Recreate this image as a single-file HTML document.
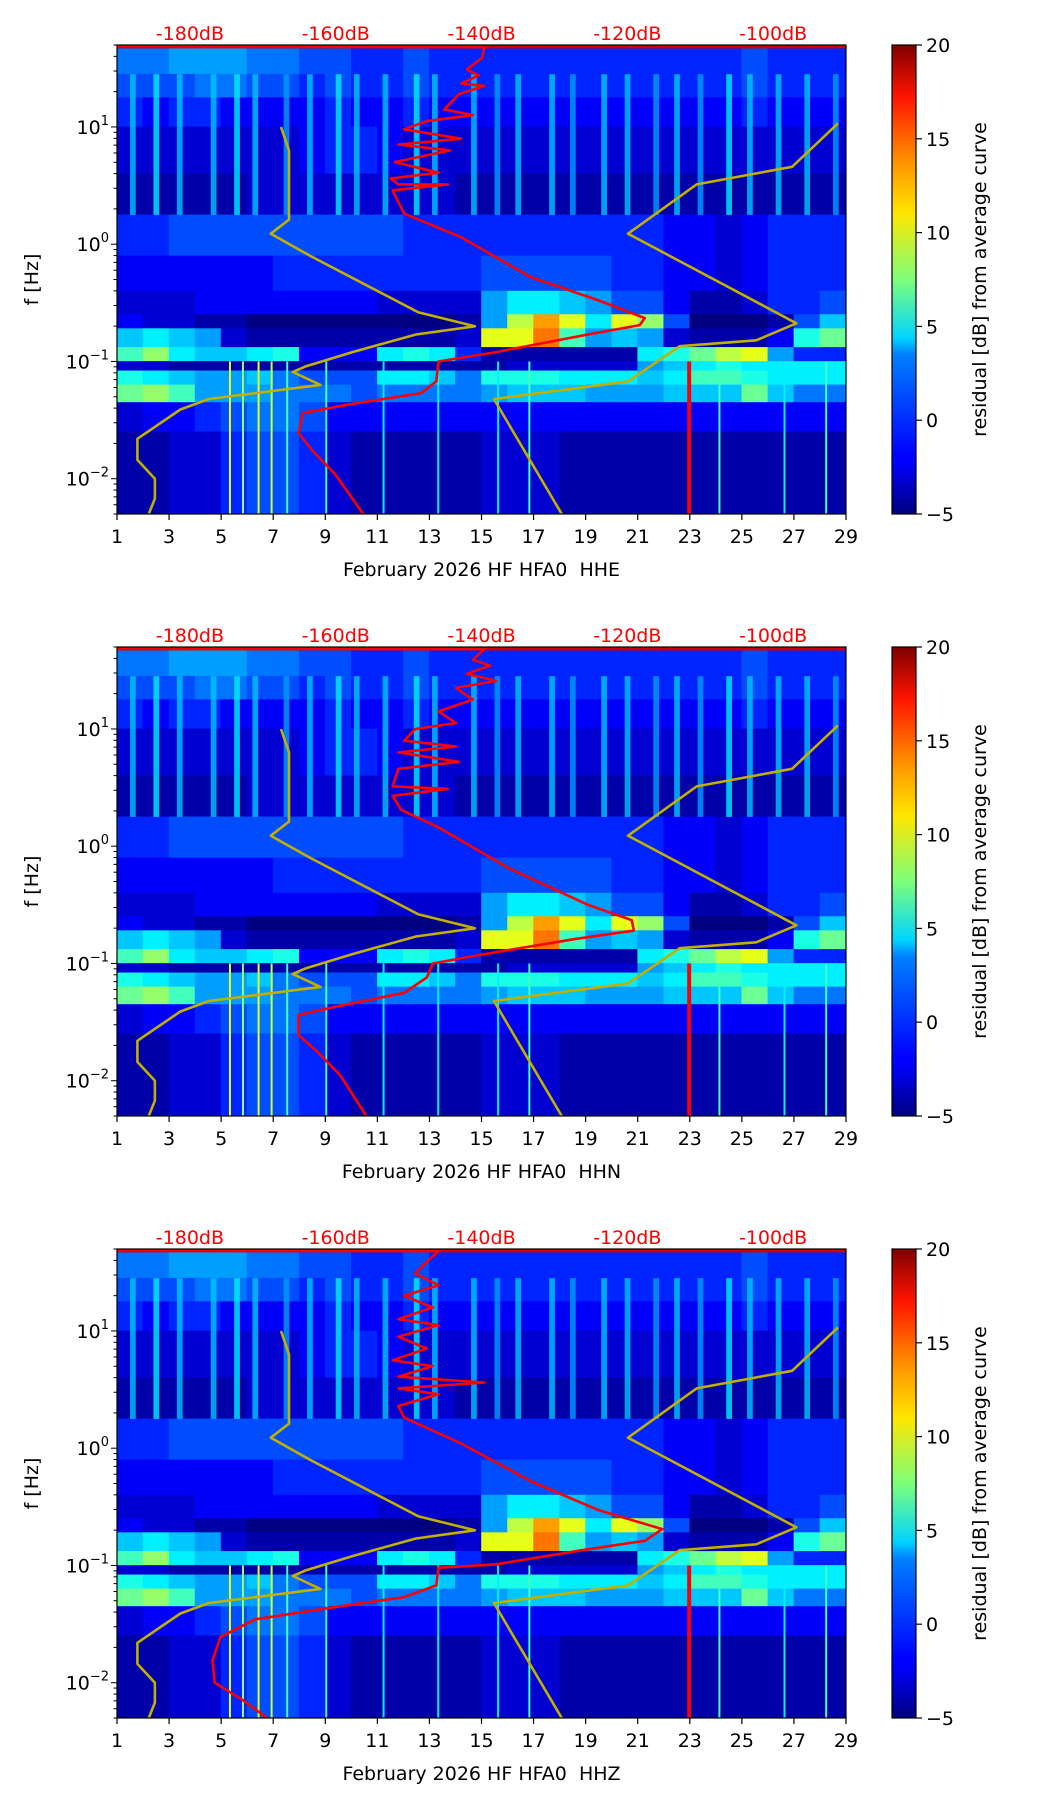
<!DOCTYPE html>
<html><head><meta charset="utf-8"><style>
html,body{margin:0;padding:0;background:#fff;}
svg{display:block;font-family:"DejaVu Sans","Liberation Sans",sans-serif;}
</style></head><body>
<svg id="fig" width="1052" height="1806" viewBox="0 0 1052 1806" xmlns="http://www.w3.org/2000/svg">
<defs>
<linearGradient id="jetg" x1="0" y1="1" x2="0" y2="0">
<stop offset="0" stop-color="#00007f"/><stop offset="0.11" stop-color="#0000ff"/><stop offset="0.125" stop-color="#0000ff"/>
<stop offset="0.34" stop-color="#0080ff"/><stop offset="0.375" stop-color="#00d4ff"/><stop offset="0.5" stop-color="#7dff7a"/>
<stop offset="0.64" stop-color="#ffe600"/><stop offset="0.75" stop-color="#ff9400"/><stop offset="0.89" stop-color="#ff1300"/><stop offset="1" stop-color="#7f0000"/>
</linearGradient>
</defs>
</svg>
<script>
// ---- data ----
const channels = ["HHE","HHN","HHZ"];
const dayTicks = [1,3,5,7,9,11,13,15,17,19,21,23,25,27,29];
const dbTicks = [-180,-160,-140,-120,-100];
const cbTicks = [20,15,10,5,0,-5];
const rowEdges = [1.70,1.45,1.25,1.0,0.6,0.25,-0.1,-0.4,-0.6,-0.72,-0.88,-1.0,-1.08,-1.2,-1.35,-1.6,-2.31];
const r0=[1,1,2,2,2,1,1,0,0,-1,-1,0,-1,-1,-1,-1,-1,-1,-1,-1,-1,-1,-1,-1,0,-1,-1,-1];
const r1=[0,0,0,1,1,0,0,-1,0,-1,-1,0,-1,-1,-1,-1,-1,-1,-1,-1,-1,-1,-1,-1,0,-1,-1,-1];
const r2=[-1,-2,-1,-1,-2,-2,-2,-2,-1,-2,-2,-1,-2,-2,-2,-2,-2,-2,-2,-2,-2,-2,-2,-2,-1,-2,-2,-2];
const r3=[-3,-3,-3,-3,-3,-3,-3,-2,-1,-1,-2,-3,-3,-3,-3,-3,-3,-3,-3,-3,-3,-3,-3,-3,-3,-3,-3,-3];
const r4=[-4,-4,-4,-4,-4,-3,-3,-3,-3,-3,-3,-3,-3,-4,-4,-4,-4,-4,-4,-4,-4,-4,-4,-4,-4,-4,-4,-4];
const r5=[-1,-1,0,0,0,0,0,0,0,0,0,-1,-1,-1,-1,-1,-1,-1,-1,-1,-1,-2,-2,-3,-2,-1,-1,-1];
const r6=[-2,-2,-2,-2,-2,-2,-1,-1,-1,-1,-1,-1,-1,-1,0,0,0,0,0,-1,-1,-2,-2,-3,-2,-1,-1,-1];
const r7=[-3,-3,-3,-2,-2,-2,-2,-2,-2,-2,-3,-3,-3,-3,2,4,4,3,2,0,0,-2,-4,-4,-3,-1,-1,0];
const r8=[-2,-3,-3,-4,-4,-5,-5,-5,-5,-5,-5,-5,-5,-4,2,9,13,10,4,10,8,0,-5,-5,-5,-4,0,3];
const r9=[3,4,3,2,-3,-4,-4,-4,-4,-4,-4,-4,-4,-3,10,10,14,6,2,3,2,-3,-4,-4,-4,-2,5,7];
const r10=[6,8,4,3,3,4,5,-2,-2,-2,4,5,4,-1,-4,-4,-4,-4,-4,-4,4,5,7,9,10,2,-1,-1];
const r11=[-3,-3,-4,-4,-4,-4,-4,-4,-4,-4,-4,-4,-4,-4,-4,-3,-3,-3,-3,-3,2,3,4,5,4,4,4,4];
const r12=[5,4,3,2,2,3,1,0,0,0,4,4,3,1,5,5,5,4,4,4,3,4,6,6,5,4,4,4];
const r13=[7,8,6,2,2,2,1,1,1,0,1,1,1,1,2,3,3,3,2,2,2,3,3,3,7,3,1,1];
const r14=[-3,-2,-2,-1,0,1,1,0,-2,-2,-2,-2,-2,-2,-2,-2,-2,-2,-2,-2,-2,-2,-2,-2,-2,-2,-2,-2];
const r15=[-4,-4,-3,-3,-1,0,0,-1,-3,-4,-4,-4,-4,-4,-3,-3,-3,-4,-4,-4,-4,-4,-4,-4,-4,-4,-4,-4];
const gridRows=[r0,r1,r2,r3,r4,r5,r6,r7,r8,r9,r10,r11,r12,r13,r14,r15];
const hiStripeDays=[1.5,2.4,3.3,4.6,5.5,6.2,7.4,8.3,9.4,10.1,11.2,12.4,13.1,14.6,15.5,16.3,17.6,18.4,19.6,20.5,21.6,22.4,23.3,24.4,25.2,26.3,27.4,28.5];
const hiStripeVals=[3,4,3,3,4,3,2,3,4,3,3,4,3,3,2,3,3,2,3,3,2,3,2,4,3,3,3,2];
const loStripeDays=[5.3,5.8,6.4,6.9,7.5,9.0,11.2,13.3,15.6,16.8,22.9,24.1,26.6,28.2];
const loStripeVals=[10,8,10,9,6,6,4,4,4,6,17,6,4,6];
// noise models (dB, log10 f)
const nlnmDb=[-167.5,-166.4,-166.4,-168.9,-163.5,-148.7,-140.9,-149,-157.7,-164,-165.9,-162.1,-177.4,-181.3,-187.2,-187.2,-184.8,-184.8,-185.7];
const nlnmLogF=[1.0,0.80,0.21,0.09,-0.10,-0.58,-0.70,-0.77,-0.92,-1.04,-1.09,-1.20,-1.32,-1.41,-1.66,-1.84,-2.0,-2.17,-2.31];
const nhnmDb=[-91.1,-97.4,-110.5,-119.9,-96.8,-102.3,-112.8,-119.9,-138.3,-128.9];
const nhnmLogF=[1.03,0.66,0.51,0.09,-0.675,-0.82,-0.87,-1.17,-1.32,-2.31];
// station average curves
const hheDb=[-190,-139.6,-139.9,-142.0,-140.4,-142.8,-139.6,-143.1,-145.1,-141.2,-147.5,-150.6,-142.8,-151.4,-144.3,-151.9,-145.9,-152.5,-151.4,-144.6,-152.2,-151.4,-150.6,-142.8,-133.3,-123.9,-117.6,-118.3,-125.4,-138.0,-145.9,-146.2,-148.3,-158.5,-164.5,-165.1,-163.2,-160.1,-156.1];
const hheLogF=[1.69,1.68,1.59,1.49,1.44,1.37,1.35,1.28,1.15,1.10,1.05,0.98,0.90,0.85,0.80,0.70,0.61,0.56,0.51,0.51,0.46,0.36,0.26,0.06,-0.28,-0.48,-0.63,-0.69,-0.77,-0.92,-1.00,-1.17,-1.27,-1.37,-1.44,-1.61,-1.76,-1.96,-2.31];
const hhnDb=[-190,-139.6,-141.2,-138.8,-142.0,-138.0,-143.5,-141.2,-145.9,-143.5,-149.1,-150.6,-143.5,-151.4,-143.1,-151.4,-152.2,-144.6,-152.2,-151.0,-145.9,-136.5,-125.4,-119.4,-119.1,-127.0,-139.6,-146.7,-147.5,-150.6,-160.1,-165.1,-165.1,-162.4,-159.3,-155.7];
const hhnLogF=[1.69,1.68,1.59,1.54,1.47,1.41,1.35,1.25,1.15,1.05,1.0,0.90,0.85,0.80,0.72,0.66,0.51,0.49,0.43,0.31,0.16,-0.18,-0.50,-0.63,-0.72,-0.79,-0.92,-1.0,-1.12,-1.25,-1.37,-1.44,-1.61,-1.76,-1.96,-2.31];
const hhzDb=[-190,-145.9,-147.5,-149.1,-145.9,-150.6,-146.7,-151.4,-145.9,-151.4,-147.5,-152.2,-146.7,-151.4,-139.6,-151.4,-145.9,-151.4,-150.6,-142.8,-133.3,-123.9,-115.2,-117.6,-126.2,-138.0,-145.9,-146.2,-150.6,-161.7,-171.1,-175.8,-176.9,-176.6,-172.7,-169.2];
const hhzLogF=[1.69,1.68,1.59,1.49,1.39,1.30,1.20,1.10,1.05,0.95,0.85,0.75,0.70,0.61,0.56,0.51,0.46,0.36,0.26,0.04,-0.28,-0.53,-0.69,-0.79,-0.87,-0.99,-1.02,-1.17,-1.27,-1.37,-1.46,-1.61,-1.81,-2.0,-2.15,-2.31];
const curveDb=[hheDb,hhnDb,hhzDb];
const curveLogF=[hheLogF,hhnLogF,hhzLogF];

// ---- layout ----
const NS="http://www.w3.org/2000/svg";
const svg=document.getElementById('fig');
const L=117,R=846,H=469,PW=R-L;
const tops=[45,647,1249];
const CBL=892,CBW=24;
const LFMAX=Math.log10(50),LFMIN=Math.log10(0.005);
function mk(tag,attrs,parent){const e=document.createElementNS(NS,tag);for(const k in attrs)e.setAttribute(k,attrs[k]);(parent||svg).appendChild(e);return e;}
function jet(v){let t=(v+5)/25;t=Math.max(0,Math.min(1,t));
 const f=(x)=>Math.max(0,Math.min(1,1.5-Math.abs(4*t-x)));
 const r=f(3),g=f(2),b=f(1);return `rgb(${Math.round(r*255)},${Math.round(g*255)},${Math.round(b*255)})`;}

channels.forEach((ch,pi)=>{
 const top=tops[pi];
 const xS=d=>L+(d-1)/28*PW;
 const yS=lf=>top+(LFMAX-lf)/(LFMAX-LFMIN)*H;
 const dbS=db=>L+(db+190)/100*PW;
 const g=mk('g',{});
 
 
 const clipId='clip'+pi;
 const cp=mk('clipPath',{id:clipId},g);mk('rect',{x:L,y:top,width:PW,height:H},cp);
 const hm=mk('g',{'clip-path':`url(#${clipId})`},g);
 
 
 gridRows.forEach((row,ri)=>{
  const y1=yS(rowEdges[ri]),y2=yS(rowEdges[ri+1]);
  row.forEach((v,di)=>{
   const c=mk('rect',{x:xS(di+1)-0.3,y:y1-0.3,width:PW/28+0.6,height:y2-y1+0.6,fill:jet(v)},hm);
   
   
  });
 });
 hiStripeDays.forEach((d,i)=>{
  const s=mk('rect',{x:xS(d),y:yS(1.45),width:PW/28*0.22,height:yS(0.25)-yS(1.45),fill:jet(hiStripeVals[i]),opacity:0.8},hm);
  
  
 });
 loStripeDays.forEach((d,i)=>{
  const s=mk('rect',{x:xS(d),y:yS(-1.0),width:i===10?4:2,height:yS(-2.31)-yS(-1.0),fill:jet(loStripeVals[i])},hm);
  
  
 });
 const tr=mk('rect',{x:L,y:yS(1.699),width:PW,height:yS(1.67)-yS(1.699),fill:jet(18)},hm);
 
 
 const line=(dbs,lfs,color,name)=>{
  const pts=dbs.map((d,i)=>dbS(d).toFixed(1)+','+yS(lfs[i]).toFixed(1)).join(' ');
  const p=mk('polyline',{points:pts,fill:'none',stroke:color,'stroke-width':2.6,'stroke-linejoin':'round'},hm);
  
  
 };
 line(nlnmDb,nlnmLogF,'#c2b000','low-noise-model-curve');
 line(nhnmDb,nhnmLogF,'#c2b000','high-noise-model-curve');
 line(curveDb[pi],curveLogF[pi],'#ff0000','average-psd-curve');
 const fr=mk('rect',{x:L,y:top,width:PW,height:H,fill:'none',stroke:'#000','stroke-width':1.2},g);
 
 
 dayTicks.forEach(d=>{
  mk('line',{x1:xS(d),x2:xS(d),y1:top+H,y2:top+H+6,stroke:'#000','stroke-width':1.2},g);
  const t=mk('text',{x:xS(d),y:top+H+29,'text-anchor':'middle','font-size':19,fill:'#000'},g);
  t.textContent=d;
  
  
 });
 dbTicks.forEach(db=>{
  const t=mk('text',{x:dbS(db),y:top-5,'text-anchor':'middle','font-size':19,fill:'#ff0000'},g);
  t.textContent=db+'dB';
  
  
 });
 for(let e=-3;e<=1;e++){
  for(let k=1;k<10;k++){
   const lf=e+Math.log10(k);
   if(lf<LFMIN-1e-6||lf>LFMAX+1e-6)continue;
   mk('line',{x1:L,x2:L-(k===1?6:3.5),y1:yS(lf),y2:yS(lf),stroke:'#000','stroke-width':1},g);
  }
  if(e>=-2){
   const t=mk('text',{x:L-8,y:yS(e)+7,'text-anchor':'end','font-size':19,fill:'#000'},g);
   
   
   const a=mk('tspan',{},t);a.textContent='10';
   const b=mk('tspan',{dy:-9,'font-size':13},t);b.textContent=e<0?'−'+(-e):String(e);
  }
 }
 const yl=mk('text',{x:38,y:top+H/2,'text-anchor':'middle','font-size':19,fill:'#000',transform:`rotate(-90 38 ${top+H/2})`},g);
 yl.textContent='f [Hz]';
 
 
 const xl=mk('text',{x:L+PW/2,y:top+H+62,'text-anchor':'middle','font-size':19,fill:'#000',style:'white-space:pre'},g);
 xl.textContent='February 2026 HF HFA0  '+ch;
 
 
 const cb=mk('rect',{x:CBL,y:top,width:CBW,height:H,fill:'url(#jetg)',stroke:'#000','stroke-width':1.2},g);
 
 
 cbTicks.forEach(v=>{
  const y=top+(20-v)/25*H;
  mk('line',{x1:CBL+CBW,x2:CBL+CBW+6,y1:y,y2:y,stroke:'#000','stroke-width':1.2},g);
  const t=mk('text',{x:CBL+CBW+10,y:y+7,'font-size':19,fill:'#000'},g);
  t.textContent=v<0?'−'+(-v):String(v);
  
  
 });
 const cl=mk('text',{x:986,y:top+H/2,'text-anchor':'middle','font-size':19,fill:'#000',transform:`rotate(-90 986 ${top+H/2})`},g);
 cl.textContent='residual [dB] from average curve';
 
 
});
</script>
</body></html>
